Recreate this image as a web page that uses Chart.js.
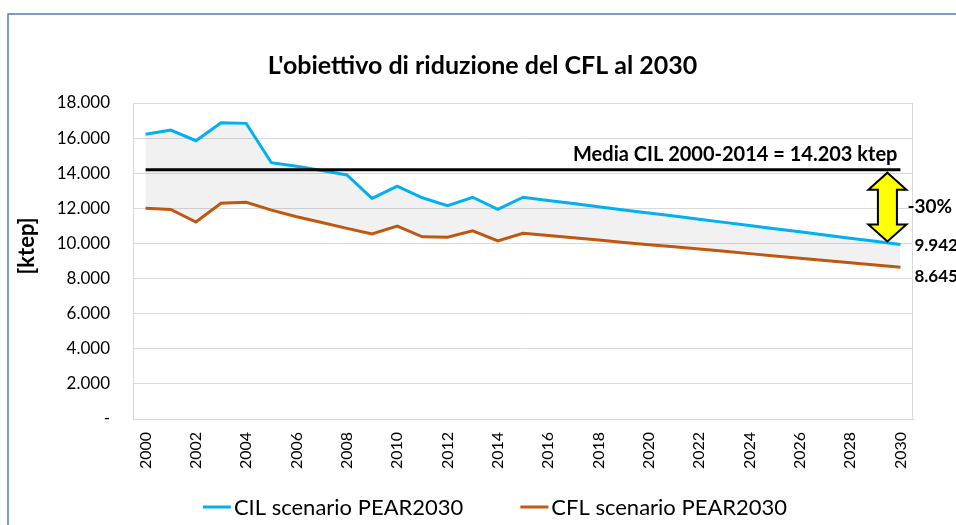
<!DOCTYPE html>
<html>
<head>
<meta charset="utf-8">
<script src="https://cdn.jsdelivr.net/npm/chart.js@4.4.0/dist/chart.umd.min.js"></script>
<style>
  body { margin: 0; background: #fff; }
  #wrap { width: 956px; height: 525px; position: relative; }
</style>
</head>
<body>
<div id="wrap"><canvas id="graficoCFL" width="956" height="525"></canvas></div>
<script>
const anni = ['2000','2001','2002','2003','2004','2005','2006','2007','2008','2009','2010',
    '2011','2012','2013','2014','2015','2016','2017','2018','2019','2020',
    '2021','2022','2023','2024','2025','2026','2027','2028','2029','2030'];

const cil = [16220, 16460, 15850, 16880, 16840, 14600, 14400, 14150, 13900, 12570, 13270,
    12600, 12150, 12630, 11940, 12630, 12450, 12270, 12090, 11910, 11730,
    11560, 11380, 11200, 11020, 10840, 10660, 10480, 10300, 10120, 9942];

const cfl = [12000, 11940, 11220, 12290, 12340, 11900, 11520, 11190, 10860, 10540, 10990,
    10380, 10350, 10720, 10140, 10580, 10450, 10320, 10190, 10060, 9930,
    9810, 9680, 9550, 9420, 9290, 9160, 9030, 8900, 8770, 8645];

const mediaCIL = 14203;
const riduzione = '-30%';

const FONT = 'Lato, "Open Sans", sans-serif';

function formatta(v) {
    if (v === 0) return '-';
    return String(Math.round(v)).replace(/\B(?=(\d{3})+(?!\d))/g, '.');
}

// cornice, titolo asse, media, freccia, etichette finali e legenda
const decorazioni = {
    id: 'decorazioni',
    beforeDraw(chart) {
        const ctx = chart.ctx;
        ctx.save();
        ctx.strokeStyle = '#4a7ebb';
        ctx.lineWidth = 1.5;
        ctx.strokeRect(8, 14, 1200, 1000);
        ctx.restore();
    },
    beforeDatasetsDraw(chart) {
        const a = chart.chartArea;
        const ctx = chart.ctx;
        ctx.save();
        ctx.strokeStyle = '#d9d9d9';
        ctx.lineWidth = 1;
        ctx.strokeRect(a.left + 0.5, a.top + 0.5, a.right - a.left - 1, a.bottom - a.top);
        ctx.restore();
    },
    afterDatasetsDraw(chart) {
        const ctx = chart.ctx;
        const xs = chart.scales.x;
        const ys = chart.scales.y;
        const ultimo = anni.length - 1;
        const x0 = xs.getPixelForValue(0);
        const x1 = xs.getPixelForValue(ultimo);
        const yMedia = ys.getPixelForValue(mediaCIL);
        const yCil = ys.getPixelForValue(cil[ultimo]);
        const yCfl = ys.getPixelForValue(cfl[ultimo]);

        ctx.save();
        // linea della media
        ctx.strokeStyle = '#000';
        ctx.lineWidth = 3;
        ctx.beginPath();
        ctx.moveTo(x0, yMedia);
        ctx.lineTo(x1, yMedia);
        ctx.stroke();

        ctx.fillStyle = '#000';
        ctx.font = 'bold 20px ' + FONT;
        ctx.textAlign = 'right';
        ctx.textBaseline = 'middle';
        ctx.fillText('Media CIL 2000-2014 = ' + formatta(mediaCIL) + ' ktep', x1 - 3, yMedia - 15);

        // freccia doppia gialla
        const cx = x1 - 13;
        const top = yMedia + 3;
        const bot = yCil - 3;
        const testa = 17, mezza = 19, gambo = 9.5;
        ctx.beginPath();
        ctx.moveTo(cx, top);
        ctx.lineTo(cx + mezza, top + testa);
        ctx.lineTo(cx + gambo, top + testa);
        ctx.lineTo(cx + gambo, bot - testa);
        ctx.lineTo(cx + mezza, bot - testa);
        ctx.lineTo(cx, bot);
        ctx.lineTo(cx - mezza, bot - testa);
        ctx.lineTo(cx - gambo, bot - testa);
        ctx.lineTo(cx - gambo, top + testa);
        ctx.lineTo(cx - mezza, top + testa);
        ctx.closePath();
        ctx.fillStyle = '#ffff00';
        ctx.fill();
        ctx.strokeStyle = '#000';
        ctx.lineWidth = 2;
        ctx.lineJoin = 'miter';
        ctx.stroke();

        ctx.fillStyle = '#000';
        ctx.textAlign = 'left';
        ctx.font = 'bold 19px ' + FONT;
        ctx.fillText(riduzione, x1 + 7, (yMedia + yCil) / 2);

        ctx.font = 'bold 17px ' + FONT;
        ctx.fillText(formatta(cil[ultimo]), x1 + 14, yCil + 1);
        ctx.fillText(formatta(cfl[ultimo]), x1 + 14, yCfl + 9);

        // titolo asse y
        ctx.save();
        ctx.translate(27, 246);
        ctx.rotate(-Math.PI / 2);
        ctx.textAlign = 'center';
        ctx.font = 'bold 22px ' + FONT;
        ctx.fillText('[ktep]', 0, 0);
        ctx.restore();

        // legenda
        ctx.font = '22px ' + FONT;
        const voci = chart.data.datasets.map(d => ({
            testo: d.label, colore: d.borderColor, w: 31 + ctx.measureText(d.label).width
        }));
        const spazio = 57;
        const totale = voci.reduce((s, v) => s + v.w, 0) + spazio * (voci.length - 1);
        let x = 495 - totale / 2;
        const yLeg = 507;
        voci.forEach(v => {
            ctx.strokeStyle = v.colore;
            ctx.lineWidth = 3;
            ctx.beginPath();
            ctx.moveTo(x, yLeg);
            ctx.lineTo(x + 28, yLeg);
            ctx.stroke();
            ctx.fillStyle = '#000';
            ctx.fillText(v.testo, x + 31, yLeg + 1);
            x += v.w + spazio;
        });
        ctx.restore();
    }
};

const grafico = new Chart(document.getElementById('graficoCFL'), {
    type: 'line',
    data: {
        labels: anni,
        datasets: [{
            label: 'CIL scenario PEAR2030',
            data: cil,
            borderColor: '#00b0f0',
            backgroundColor: 'rgba(0,0,0,0.055)',
            borderWidth: 3,
            pointRadius: 0,
            tension: 0,
            fill: '+1'
        }, {
            label: 'CFL scenario PEAR2030',
            data: cfl,
            borderColor: '#c55a11',
            backgroundColor: '#c55a11',
            borderWidth: 3,
            pointRadius: 0,
            tension: 0,
            fill: false
        }]
    },
    options: {
        responsive: false,
        animation: false,
        devicePixelRatio: 1,
        layout: { padding: { left: 52, right: 43, top: 0, bottom: 50 } },
        plugins: {
            title: {
                display: true,
                text: "L'obiettivo di riduzione del CFL al 2030",
                color: '#000',
                font: { family: FONT, size: 25, weight: 'bold' },
                padding: { top: 51, bottom: 22 }
            },
            legend: { display: false },
            tooltip: { enabled: false }
        },
        scales: {
            x: {
                offset: true,
                grid: { display: false, drawTicks: false },
                border: { color: '#d9d9d9' },
                ticks: {
                    autoSkip: false,
                    minRotation: 90,
                    maxRotation: 90,
                    padding: 13,
                    color: '#000',
                    font: { family: FONT, size: 16 },
                    callback: function (v, i) { return i % 2 === 0 ? this.getLabelForValue(v) : ''; }
                },
                afterFit: s => { s.height = 56; }
            },
            y: {
                min: 0,
                max: 18000,
                grid: { color: '#d9d9d9', drawTicks: false },
                border: { color: '#d9d9d9' },
                ticks: {
                    stepSize: 2000,
                    padding: 23,
                    color: '#000',
                    font: { family: FONT, size: 17 },
                    callback: v => formatta(v)
                },
                afterFit: s => { s.width = 81; }
            }
        }
    },
    plugins: [decorazioni]
});
</script>
</body>
</html>
